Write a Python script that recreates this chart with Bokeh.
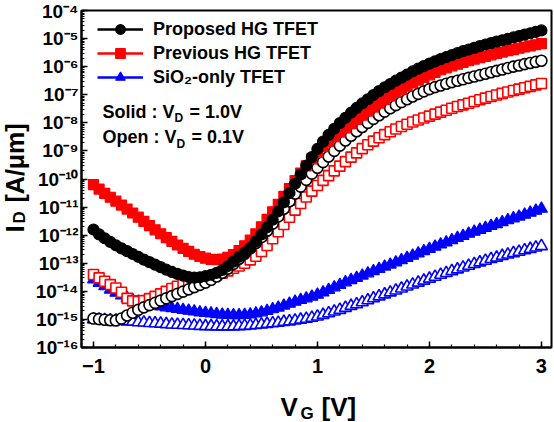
import math
from bokeh.plotting import figure
from bokeh.layouts import row, column
from bokeh.models import (FixedTicker, CustomJSTickFormatter, Label, Legend, LegendItem,
                          ColumnDataSource, Range1d)
from bokeh.embed import file_html
from bokeh.resources import INLINE

# Gate-voltage sweep (V), step 0.05 V
vg = [round(-1.0 + 0.05 * i, 2) for i in range(81)]

# log10(I_D [A/um])
prop_on = [-11.80, -11.97, -12.11, -12.24, -12.36, -12.47, -12.57, -12.67, -12.77, -12.87,
           -12.96, -13.05, -13.14, -13.23, -13.31, -13.38, -13.44, -13.49, -13.51, -13.50,
           -13.46, -13.41, -13.34, -13.24, -13.10, -12.94, -12.77, -12.62, -12.45, -12.22,
           -11.97, -11.72, -11.45, -11.15, -10.83, -10.50, -10.17, -9.84, -9.52, -9.22,
           -8.93, -8.67, -8.43, -8.21, -8.01, -7.82, -7.64, -7.47, -7.31, -7.16,
           -7.01, -6.87, -6.74, -6.62, -6.50, -6.39, -6.28, -6.17, -6.07, -5.98,
           -5.89, -5.81, -5.73, -5.66, -5.59, -5.52, -5.45, -5.39, -5.33, -5.27,
           -5.21, -5.16, -5.11, -5.06, -5.01, -4.96, -4.91, -4.86, -4.81, -4.76,
           -4.71]
prev_on = [-10.20, -10.36, -10.51, -10.65, -10.79, -10.93, -11.07, -11.21, -11.36, -11.51,
           -11.66, -11.81, -11.95, -12.09, -12.22, -12.35, -12.47, -12.58, -12.68, -12.76,
           -12.82, -12.86, -12.87, -12.85, -12.79, -12.69, -12.55, -12.38, -12.18, -11.95,
           -11.70, -11.44, -11.17, -10.90, -10.62, -10.34, -10.06, -9.79, -9.53, -9.28,
           -9.05, -8.85, -8.66, -8.49, -8.33, -8.18, -8.03, -7.88, -7.73, -7.58,
           -7.44, -7.30, -7.17, -7.04, -6.92, -6.80, -6.69, -6.58, -6.48, -6.38,
           -6.29, -6.20, -6.11, -6.04, -5.97, -5.91, -5.85, -5.79, -5.73, -5.68,
           -5.63, -5.58, -5.53, -5.48, -5.43, -5.39, -5.34, -5.30, -5.26, -5.22,
           -5.18]
sio2_on = [-13.58, -13.70, -13.82, -13.94, -14.05, -14.15, -14.24, -14.31, -14.37, -14.42,
           -14.46, -14.50, -14.54, -14.57, -14.60, -14.63, -14.66, -14.69, -14.72, -14.75,
           -14.77, -14.79, -14.81, -14.83, -14.84, -14.85, -14.85, -14.84, -14.82, -14.79,
           -14.75, -14.70, -14.64, -14.58, -14.51, -14.44, -14.37, -14.31, -14.25, -14.19,
           -14.12, -14.04, -13.95, -13.86, -13.77, -13.68, -13.60, -13.52, -13.44, -13.36,
           -13.28, -13.20, -13.12, -13.05, -12.97, -12.89, -12.81, -12.73, -12.65, -12.57,
           -12.49, -12.41, -12.33, -12.26, -12.18, -12.10, -12.03, -11.95, -11.88, -11.81,
           -11.74, -11.67, -11.61, -11.54, -11.47, -11.40, -11.34, -11.27, -11.20, -11.13,
           -11.06]
prop_off = [-14.97, -14.99, -15.01, -15.03, -15.04, -14.97, -14.86, -14.76, -14.66, -14.57,
            -14.49, -14.41, -14.33, -14.25, -14.17, -14.09, -14.01, -13.93, -13.85, -13.77,
            -13.69, -13.59, -13.47, -13.34, -13.19, -13.02, -12.84, -12.66, -12.47, -12.28,
            -12.07, -11.84, -11.59, -11.33, -11.06, -10.79, -10.52, -10.27, -10.03, -9.81,
            -9.60, -9.40, -9.20, -9.00, -8.81, -8.63, -8.46, -8.30, -8.15, -8.00,
            -7.86, -7.73, -7.60, -7.48, -7.37, -7.26, -7.16, -7.06, -6.97, -6.88,
            -6.80, -6.73, -6.67, -6.61, -6.55, -6.50, -6.45, -6.40, -6.35, -6.30,
            -6.25, -6.20, -6.15, -6.10, -6.05, -6.00, -5.96, -5.91, -5.87, -5.83,
            -5.79]
prev_off = [-13.40, -13.52, -13.64, -13.76, -13.88, -14.03, -14.25, -14.34, -14.36, -14.33,
            -14.26, -14.18, -14.09, -14.00, -13.90, -13.82, -13.75, -13.69, -13.63, -13.58,
            -13.53, -13.48, -13.42, -13.35, -13.27, -13.18, -13.10, -13.00, -12.88, -12.75,
            -12.58, -12.37, -12.13, -11.88, -11.62, -11.36, -11.11, -10.87, -10.64, -10.43,
            -10.23, -10.05, -9.88, -9.71, -9.54, -9.38, -9.22, -9.07, -8.92, -8.78,
            -8.65, -8.53, -8.42, -8.32, -8.22, -8.13, -8.05, -7.97, -7.90, -7.83,
            -7.76, -7.69, -7.62, -7.55, -7.48, -7.42, -7.36, -7.30, -7.24, -7.18,
            -7.12, -7.06, -7.01, -6.95, -6.90, -6.85, -6.80, -6.75, -6.70, -6.65,
            -6.60]
sio2_off = [-15.00, -15.01, -15.02, -15.03, -15.04, -15.06, -15.07, -15.08, -15.10, -15.11,
            -15.13, -15.14, -15.15, -15.17, -15.18, -15.19, -15.20, -15.21, -15.22, -15.23,
            -15.24, -15.24, -15.25, -15.25, -15.25, -15.25, -15.24, -15.23, -15.22, -15.20,
            -15.18, -15.16, -15.14, -15.12, -15.09, -15.07, -15.04, -15.01, -14.98, -14.94,
            -14.90, -14.84, -14.78, -14.72, -14.66, -14.59, -14.52, -14.46, -14.39, -14.32,
            -14.25, -14.18, -14.11, -14.04, -13.97, -13.90, -13.83, -13.76, -13.69, -13.62,
            -13.55, -13.48, -13.41, -13.35, -13.28, -13.22, -13.15, -13.09, -13.03, -12.97,
            -12.91, -12.85, -12.80, -12.74, -12.69, -12.64, -12.59, -12.54, -12.49, -12.44,
            -12.39]

legend_labels = ["Proposed HG TFET", "Previous HG TFET", "SiO\u2082-only TFET"]
x_ticks = [-1, 0, 1, 2, 3]
y_decades = list(range(-16, -3))

FONT = "Liberation Sans"

p = figure(width=524, height=386, y_axis_type="log", output_backend="svg",
           toolbar_location=None, x_range=Range1d(-1.107, 3.09),
           y_range=Range1d(1e-16, 1e-4), title=None,
           min_border_left=51, min_border_right=3, min_border_top=10, min_border_bottom=39)
p.frame_align = False
p.background_fill_color = "white"
p.border_fill_color = "white"
p.xgrid.visible = False
p.ygrid.visible = False
p.outline_line_color = "black"
p.outline_line_width = 2

# axes
p.xaxis.ticker = FixedTicker(ticks=x_ticks,
                             minor_ticks=[round(-1.0 + 0.2 * k, 2) for k in range(21)])
p.yaxis.ticker = FixedTicker(ticks=[10.0 ** e for e in y_decades],
                             minor_ticks=[m * 10.0 ** e for e in y_decades[:-1] for m in range(2, 10)])
p.yaxis.formatter = CustomJSTickFormatter(code="""
const e = Math.round(Math.log10(tick));
const sup = {'-': '\u207b', '0': '\u2070', '1': '\u00b9', '2': '\u00b2', '3': '\u00b3',
             '4': '\u2074', '5': '\u2075', '6': '\u2076', '7': '\u2077', '8': '\u2078', '9': '\u2079'};
return '10' + String(e).split('').map(c => sup[c]).join('');
""")
for ax in (p.xaxis[0], p.yaxis[0]):
    ax.axis_line_width = 2
    ax.axis_line_color = "black"
    ax.major_tick_in = 6
    ax.major_tick_out = 0
    ax.minor_tick_in = 3
    ax.minor_tick_out = 0
    ax.major_tick_line_width = 1.5
    ax.minor_tick_line_width = 1.2
    ax.major_label_text_font = FONT
    ax.major_label_text_font_style = "bold"
    ax.major_label_text_color = "black"
p.xaxis.major_label_text_font_size = "20px"
p.yaxis.major_label_text_font_size = "19px"
p.xaxis.major_label_standoff = 11
p.yaxis.major_label_standoff = 3


def L(vals):
    return [10.0 ** v for v in vals]


def series(vals, marker, color, size, filled):
    src = ColumnDataSource(dict(x=vg, y=L(vals)))
    ln = None
    if filled:
        ln = p.line("x", "y", source=src, line_color=color, line_width=2.5)
    sc = p.scatter("x", "y", source=src, marker=marker, size=size,
                   fill_color=color if filled else "white", line_color=color,
                   line_width=1.2 if filled else 1.6)
    return ln, sc


series(sio2_off, "triangle", "#0000ff", 12, False)
l_blue, s_blue = series(sio2_on, "triangle", "#0000ff", 12, True)
series(prev_off, "square", "#ff0000", 10, False)
series(prop_off, "circle", "#000000", 11, False)
l_red, s_red = series(prev_on, "square", "#ff0000", 10, True)
l_black, s_black = series(prop_on, "circle", "#000000", 11, True)

legend = Legend(items=[LegendItem(label=legend_labels[0], renderers=[l_black, s_black]),
                       LegendItem(label=legend_labels[1], renderers=[l_red, s_red]),
                       LegendItem(label=legend_labels[2], renderers=[l_blue, s_blue])],
                location=(16, 258), glyph_width=46, glyph_height=24, label_height=24,
                spacing=0, padding=0, margin=0, label_standoff=10,
                border_line_alpha=0, background_fill_alpha=0,
                label_text_font=FONT, label_text_font_style="bold",
                label_text_font_size="18px", label_text_color="black")
p.add_layout(legend)


def lab(fig, text, x, y, size, angle=0.0):
    fig.add_layout(Label(x=x, y=y, x_units="screen", y_units="screen", text=text,
                         angle=angle, text_font=FONT, text_font_style="bold",
                         text_font_size=size, text_color="black",
                         text_baseline="middle", text_align="left"))


# annotation texts inside the plot (y = vertical centre of the text)
lab(p, "Solid : V", 21, 236, "18px")
lab(p, "D", 93, 229.5, "12px")
lab(p, "= 1.0V", 108, 236, "18px")
lab(p, "Open : V", 21, 210.5, "18px")
lab(p, "D", 95, 203.5, "12px")
lab(p, "= 0.1V", 110, 210.5, "18px")


def strip(w, h):
    f = figure(width=w, height=h, output_backend="svg", toolbar_location=None,
               x_axis_location=None, y_axis_location=None, min_border=0, title=None,
               x_range=Range1d(0, 1), y_range=Range1d(0, 1))
    f.frame_align = False
    f.outline_line_color = None
    f.background_fill_color = "white"
    f.border_fill_color = "white"
    f.grid.visible = False
    return f


# x-axis title strip (below the plot)
fx = strip(524, 36)
lab(fx, "V", 250, 16, "26px")
lab(fx, "G", 270, 9, "17px")
lab(fx, "[V]", 291, 16, "26px")

# y-axis title strip (left of the plot)
fy = strip(30, 422)
lab(fy, "I", 14, 190, "26px", math.pi / 2)
lab(fy, "D", 19, 199, "17px", math.pi / 2)
lab(fy, "[A/\u03bcm]", 14, 220, "25px", math.pi / 2)

layout = row(fy, column(p, fx, spacing=0), spacing=0)
open("out.html", "w").write(file_html(layout, INLINE))
